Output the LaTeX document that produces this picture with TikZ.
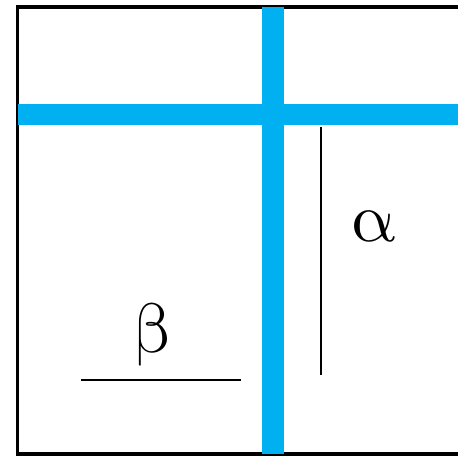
\documentclass[tikz,border=0pt]{standalone}
\usepackage{unicode-math}
\setmathfont{Latin Modern Math}
\definecolor{barblue}{HTML}{00B0F0}
\begin{document}
\begin{tikzpicture}[x=1pt,y=1pt,
  frame/.style={line width=3.5pt,draw=black},
  bar/.style={line width=21pt,draw=barblue},
  thin/.style={line width=1.8pt,draw=black},
  greek/.style={font=\fontsize{70}{70}\selectfont,inner sep=0pt}]
\useasboundingbox (0,0) rectangle (458,456);
\clip (0,0) rectangle (458,456);
\draw[frame] (17.5,2) rectangle (475,449);
\coordinate (hl) at (17.5,341.5);
\coordinate (hr) at (460,341.5);
\coordinate (vt) at (273,449);
\coordinate (vb) at (273,2);
\draw[bar,line width=22pt] (vt) -- (vb);
\draw[bar] (hl) -- (hr);
\coordinate (at) at (321,329);
\coordinate (ab) at (321,81);
\draw[thin] (at) -- (ab);
\coordinate (bl) at (81,76);
\coordinate (br) at (241,76);
\draw[thin] (bl) -- (br);
\node[greek] (alpha) at (374,230) {$\symup{\alpha}$};
\node[greek] (beta) at (153,121) {$\symup{\beta}$};
\end{tikzpicture}
\end{document}
